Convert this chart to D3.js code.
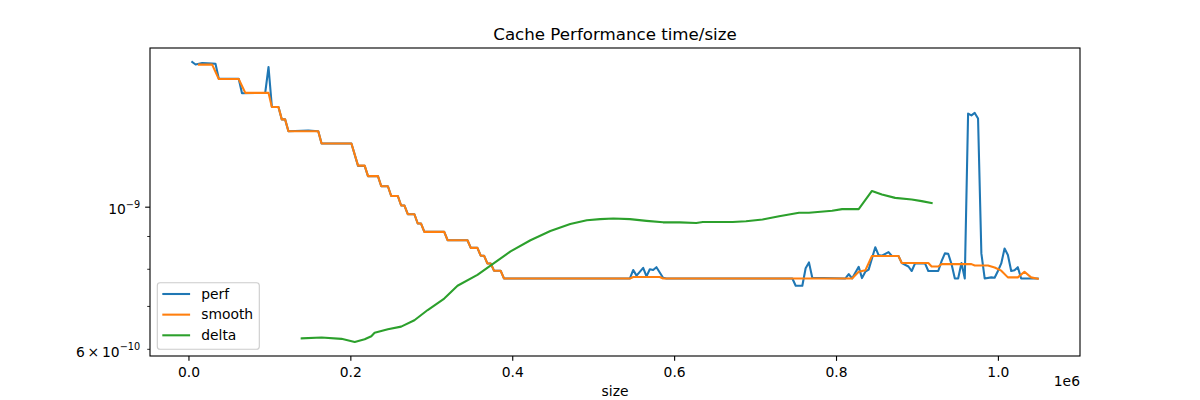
<!DOCTYPE html>
<html><head><meta charset="utf-8">
<script src="https://cdn.jsdelivr.net/npm/d3@7"></script>
<style>
body{margin:0;background:#fff}
text{font-family:"DejaVu Sans",sans-serif;fill:#000}
</style>
</head><body>
<svg id="chart" width="1200" height="400"></svg>
<script>
// ---- data (sizes in KiB, times in units of 1e-10 s) ----
const xUnit = 1024;
const yUnit = 1e-10;
const chartTitle = "Cache Performance time/size";
const xAxisLabel = "size";
const xOffsetText = "1e6";
const seriesNames = ["perf", "smooth", "delta"];
const seriesColors = ["#1f77b4", "#ff7f0e", "#2ca02c"];
const xTickValues = [0, 200000, 400000, 600000, 800000, 1000000];
const xTickLabels = ["0.0", "0.2", "0.4", "0.6", "0.8", "1.0"];
const yMajorTicks = [1e-9];
const yMinorTicks = [6e-10, 7e-10, 8e-10, 9e-10];
const yTickLabels = [[1e-9, "10", "\u22129"], [6e-10, "6\u2009\u00d7\u200910", "\u221210"]];

const perf = [
  [4,16.85],[8,16.70],[16,16.79],[28,16.75],[32,16.74],[36,15.87],[60,15.86],[64,15.06],
  [92,15.08],[96,16.55],[100,14.35],[108,14.33],[112,13.71],[116,13.71],[120,13.14],[144,13.17],
  [156,13.14],[160,12.57],[196,12.57],[204,11.60],[212,11.60],[216,11.18],[228,11.18],[232,10.78],
  [240,10.78],[244,10.41],[252,10.41],[256,10.06],[260,10.06],[264,9.75],[272,9.75],[276,9.43],
  [280,9.43],[284,9.15],[308,9.15],[312,8.88],[336,8.88],[340,8.64],[348,8.64],[352,8.40],
  [356,8.40],[360,8.17],[364,8.17],[368,7.96],[376,7.96],[380,7.74],[532,7.74],[536,7.98],
  [540,7.82],[548,8.04],[552,7.80],[556,8.00],[560,7.98],[564,8.06],[572,7.76],[576,7.74],
  [728,7.74],[732,7.54],[740,7.54],[744,8.03],[748,8.20],[752,7.76],[792,7.74],[796,7.86],
  [800,7.74],[808,8.07],[812,7.75],[816,7.93],[820,7.99],[828,8.66],[832,8.42],[836,8.40],
  [844,8.51],[848,8.39],[856,8.39],[860,8.18],[868,8.08],[872,7.95],[876,8.17],[888,8.17],
  [892,7.95],[904,7.95],[908,8.24],[912,8.47],[916,8.46],[920,8.15],[924,7.74],[928,7.74],
  [932,8.18],[936,7.74],[940,14.00],[944,13.91],[948,14.03],[952,13.75],[956,8.47],[960,7.74],
  [968,7.77],[972,7.76],[976,7.95],[980,8.17],[984,8.62],[988,8.42],[992,7.95],[996,7.97],
  [1000,8.06],[1004,7.74],[1024,7.74]
];

const smooth = [
  [12,16.69],[28,16.69],[36,15.85],[60,15.85],[68,15.08],[96,15.08],[100,14.33],[108,14.33],
  [112,13.71],[116,13.71],[120,13.14],[156,13.14],[160,12.57],[196,12.57],[204,11.61],[212,11.61],
  [216,11.18],[228,11.18],[232,10.78],[240,10.78],[244,10.41],[252,10.41],[256,10.06],[260,10.06],
  [264,9.75],[272,9.75],[276,9.43],[280,9.43],[284,9.15],[308,9.15],[312,8.88],[336,8.88],
  [340,8.64],[348,8.64],[352,8.40],[356,8.40],[360,8.17],[364,8.17],[368,7.96],[376,7.96],
  [380,7.74],[532,7.74],[536,7.78],[568,7.78],[572,7.74],[800,7.74],[808,7.93],[816,7.97],
  [824,8.39],[856,8.39],[860,8.18],[892,8.18],[896,8.08],[904,8.08],[908,8.15],[944,8.15],
  [948,8.11],[964,8.11],[972,8.05],[980,7.96],[988,7.77],[1000,7.77],[1008,7.93],[1016,7.77],
  [1024,7.73]
];

const delta = [
  [136,6.24],[160,6.26],[184,6.23],[200,6.16],[212,6.22],[220,6.29],[224,6.37],[240,6.45],
  [256,6.51],[272,6.66],[288,6.91],[308,7.20],[324,7.54],[348,7.84],[368,8.18],[388,8.53],
  [412,8.88],[436,9.18],[460,9.41],[480,9.54],[496,9.58],[512,9.60],[532,9.58],[552,9.52],
  [572,9.47],[592,9.47],[612,9.45],[620,9.48],[656,9.48],[672,9.51],[692,9.57],[712,9.68],
  [736,9.80],[748,9.80],[776,9.87],[788,9.93],[808,9.93],[824,10.60],[836,10.47],[852,10.34],
  [872,10.28],[884,10.22],[896,10.15]
];

// ---- layout ----
const L = 150, R = 1080, T = 48, B = 356;
const fs = 13.89;
const svg = d3.select("#chart");
const seriesData = [perf, smooth, delta];
const all = seriesData.flat();

const xv = all.map(d => d[0] * xUnit);
const xmin = d3.min(xv), xmax = d3.max(xv), xpad = (xmax - xmin) * 0.05;
const x = d3.scaleLinear().domain([xmin - xpad, xmax + xpad]).range([L, R]);

const lv = all.map(d => Math.log10(d[1] * yUnit));
const lmin = d3.min(lv), lmax = d3.max(lv), lpad = (lmax - lmin) * 0.05;
const y = d3.scaleLog().domain([10 ** (lmin - lpad), 10 ** (lmax + lpad)]).range([B, T]);

const line = d3.line().x(d => x(d[0] * xUnit)).y(d => y(d[1] * yUnit));

svg.append("rect").attr("x", 0).attr("y", 0).attr("width", 1200).attr("height", 400).attr("fill", "#fff");

const plot = svg.append("g");
seriesData.forEach((s, i) => {
  plot.append("path").datum(s).attr("d", line)
    .attr("fill", "none").attr("stroke", seriesColors[i])
    .attr("stroke-width", 2.08).attr("stroke-linejoin", "round").attr("stroke-linecap", "square");
});

// spines
svg.append("rect").attr("x", L).attr("y", T).attr("width", R - L).attr("height", B - T)
  .attr("fill", "none").attr("stroke", "#000").attr("stroke-width", 1.11);

// x axis
const xg = svg.append("g");
xTickValues.forEach((v, i) => {
  const px = x(v);
  xg.append("line").attr("x1", px).attr("x2", px).attr("y1", B).attr("y2", B + 4.86)
    .attr("stroke", "#000").attr("stroke-width", 1.11);
  xg.append("text").attr("x", px).attr("y", B + 21.3).attr("text-anchor", "middle")
    .attr("font-size", fs).text(xTickLabels[i]);
});
svg.append("text").attr("x", R).attr("y", 386).attr("text-anchor", "end")
  .attr("font-size", fs).text(xOffsetText);
svg.append("text").attr("x", (L + R) / 2).attr("y", 395.5).attr("text-anchor", "middle")
  .attr("font-size", fs).text(xAxisLabel);

// y axis
const yg = svg.append("g");
yMajorTicks.forEach(v => {
  yg.append("line").attr("x1", L - 4.86).attr("x2", L).attr("y1", y(v)).attr("y2", y(v))
    .attr("stroke", "#000").attr("stroke-width", 1.11);
});
yMinorTicks.forEach(v => {
  yg.append("line").attr("x1", L - 2.78).attr("x2", L).attr("y1", y(v)).attr("y2", y(v))
    .attr("stroke", "#000").attr("stroke-width", 0.83);
});
yTickLabels.forEach(([v, base, sup]) => {
  const t = yg.append("text").attr("x", L - 9.8).attr("y", y(v) + 7.2)
    .attr("text-anchor", "end").attr("font-size", fs);
  t.append("tspan").text(base);
  t.append("tspan").attr("font-size", fs * 0.7).attr("dy", -6.5).text(sup);
});

// title
svg.append("text").attr("x", (L + R) / 2).attr("y", 39.7).attr("text-anchor", "middle")
  .attr("font-size", 16.67).text(chartTitle);

// legend
const lg = svg.append("g");
lg.append("rect").attr("x", 157.3).attr("y", 282.7).attr("width", 102).attr("height", 66.6)
  .attr("rx", 2.8).attr("fill", "#fff").attr("fill-opacity", 0.8)
  .attr("stroke", "#cccccc").attr("stroke-width", 1.11);
seriesNames.forEach((n, i) => {
  const cy = 294 + i * 20.65;
  lg.append("line").attr("x1", 162.3).attr("x2", 190.1).attr("y1", cy).attr("y2", cy)
    .attr("stroke", seriesColors[i]).attr("stroke-width", 2.08);
  lg.append("text").attr("x", 201.2).attr("y", cy + 4.8).attr("font-size", fs).text(n);
});
</script>
</body></html>
